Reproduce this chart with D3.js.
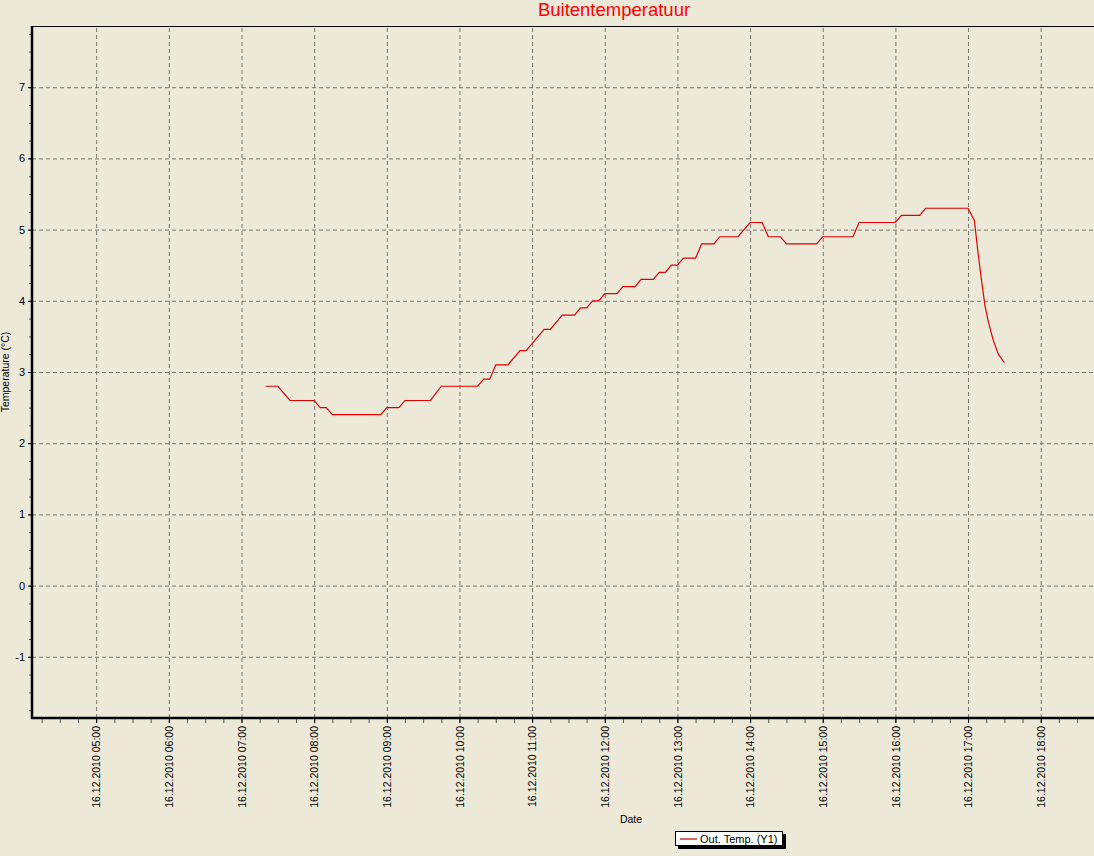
<!DOCTYPE html>
<html>
  <head>
  <title>Buitentemperatuur</title>
  <style>
    body, html {
      margin: 0;
      padding: 0;
      background: #ece9d8;
    }
    svg text {
      font-family: "Liberation Sans", Arial, sans-serif;
    }
  </style>
  </head>
  <body>
    <svg id="svg" width="1094" height="856"></svg>
  <script src="https://cdn.jsdelivr.net/npm/d3@7"></script>
  <script>
    // readings of 16.12.2010, time of day and outside temperature
    const times = [
      "07:20", "07:30", "07:40", "08:00", "08:05", "08:10", "08:15", "08:55",
      "09:00", "09:10", "09:15", "09:36", "09:45", "10:15", "10:20", "10:25",
      "10:30", "10:40", "10:50", "10:55", "11:00", "11:05", "11:10", "11:15",
      "11:20", "11:25", "11:35", "11:40", "11:45", "11:50", "11:55", "12:00",
      "12:10", "12:15", "12:25", "12:30", "12:40", "12:45", "12:50", "12:55",
      "13:00", "13:05", "13:15", "13:20", "13:30", "13:35", "13:50", "14:00",
      "14:10", "14:15", "14:25", "14:30", "14:55", "15:00", "15:25", "15:30",
      "16:00", "16:05", "16:20", "16:25", "17:00", "17:05:12", "17:08:30", "17:11:18",
      "17:14:00", "17:16:48", "17:20:54", "17:25:00", "17:30:00"
    ]
    const temps = [
      2.8, 2.8, 2.6, 2.6, 2.5, 2.5, 2.4, 2.4,
      2.5, 2.5, 2.6, 2.6, 2.8, 2.8, 2.9, 2.9,
      3.1, 3.1, 3.3, 3.3, 3.4, 3.5, 3.6, 3.6,
      3.7, 3.8, 3.8, 3.9, 3.9, 4.0, 4.0, 4.1,
      4.1, 4.2, 4.2, 4.3, 4.3, 4.4, 4.4, 4.5,
      4.5, 4.6, 4.6, 4.8, 4.8, 4.9, 4.9, 5.1,
      5.1, 4.9, 4.9, 4.8, 4.8, 4.9, 4.9, 5.1,
      5.1, 5.2, 5.2, 5.3, 5.3, 5.13, 4.64, 4.26,
      3.93, 3.70, 3.44, 3.25, 3.13
    ]
    const hourTicks = ["05:00", "06:00", "07:00", "08:00", "09:00", "10:00", "11:00",
      "12:00", "13:00", "14:00", "15:00", "16:00", "17:00", "18:00"]
    const yTicks = [-1, 0, 1, 2, 3, 4, 5, 6, 7]
    const xDomain = ["04:07", "18:44"]
    const yDomain = [-1.86, 7.86]

    const parseMin = d3.timeParse("%d.%m.%Y %H:%M")
    const parseSec = d3.timeParse("%d.%m.%Y %H:%M:%S")
    const day = "16.12.2010"
    const toDate = t => parseSec(`${day} ${t}`) || parseMin(`${day} ${t}`)

    function renderChart() {
      const data = times.map((t, i) => ({ date: toDate(t), temp: temps[i] }))

      const margin = { top: 26, right: 0, bottom: 138, left: 32 }
      const width = 1094
      const height = 856

      const xScale = d3.scaleTime()
        .domain(xDomain.map(toDate))
        .range([margin.left, width - margin.right])

      const yScale = d3.scaleLinear()
        .domain(yDomain)
        .range([height - margin.bottom, margin.top])

      const svg = d3.select('#svg')
      const bottom = height - margin.bottom

      // grid
      svg.append("g")
        .attr("class", "x-grid")
        .attr("transform", `translate(0, ${bottom})`)
        .call(d3.axisBottom(xScale).tickValues(hourTicks.map(toDate)).tickSize(-(bottom - margin.top)).tickFormat(""))
        .call(g => g.select(".domain").remove())
        .selectAll("line")
        .attr("stroke", "#77766c")
        .attr("stroke-dasharray", "4,3")

      svg.append("g")
        .attr("class", "y-grid")
        .attr("transform", `translate(${margin.left}, 0)`)
        .call(d3.axisLeft(yScale).tickValues(yTicks).tickSize(-(width - margin.left)).tickFormat(""))
        .call(g => g.select(".domain").remove())
        .selectAll("line")
        .attr("stroke", "#77766c")
        .attr("stroke-dasharray", "4,3")

      // top border
      svg.append("line")
        .attr("x1", margin.left).attr("x2", width)
        .attr("y1", margin.top + 0.5).attr("y2", margin.top + 0.5)
        .attr("stroke", "black")

      // minor ticks
      const minorX = d3.timeMinute.every(15).range(xScale.domain()[0], xScale.domain()[1])
      svg.append("g")
        .attr("transform", `translate(0, ${bottom})`)
        .call(d3.axisBottom(xScale).tickValues(minorX).tickSize(5).tickFormat(""))
        .call(g => g.select(".domain").remove())
        .selectAll("line").attr("stroke", "#555")

      const minorY = d3.range(-1.75, 7.9, 0.25)
      svg.append("g")
        .attr("transform", `translate(${margin.left}, 0)`)
        .call(d3.axisLeft(yScale).tickValues(minorY).tickSize(3).tickFormat(""))
        .call(g => g.select(".domain").remove())
        .selectAll("line").attr("stroke", "#555")

      // x axis
      svg.append("g")
        .attr("class", "x-axis")
        .attr("transform", `translate(0, ${bottom})`)
        .call(d3.axisBottom(xScale)
          .tickValues(hourTicks.map(toDate))
          .tickSize(5)
          .tickFormat(d3.timeFormat("%d.%m.%Y %H:%M")))
        .call(g => g.select(".domain").remove())
        .selectAll("text")
        .style("text-anchor", "end")
        .attr("x", 0)
        .attr("y", 0)
        .attr("dy", "0.35em")
        .attr("transform", "translate(0, 8) rotate(-90)")
        .style("font-size", "10.5px")
        .attr("fill", "black")

      svg.append("line")
        .attr("x1", margin.left - 1).attr("x2", width)
        .attr("y1", bottom).attr("y2", bottom)
        .attr("stroke", "black")
        .attr("stroke-width", 2.5)

      // y axis
      svg.append("g")
        .attr("class", "y-axis")
        .attr("transform", `translate(${margin.left}, 0)`)
        .call(d3.axisLeft(yScale).tickValues(yTicks).tickSize(4).tickPadding(3)
          .tickFormat(d => String(d)))
        .call(g => g.select(".domain").remove())
        .selectAll("text")
        .style("font-size", "11px")
        .attr("fill", "black")

      svg.append("line")
        .attr("x1", margin.left).attr("x2", margin.left)
        .attr("y1", margin.top).attr("y2", bottom + 1)
        .attr("stroke", "black")
        .attr("stroke-width", 2.5)

      // temperature line
      const line = d3.line()
        .x(d => xScale(d.date))
        .y(d => yScale(d.temp))

      svg.append("path")
        .datum(data)
        .attr("fill", "none")
        .attr("stroke", "#e00000")
        .attr("stroke-width", 1.2)
        .attr("d", line)

      // titles
      svg.append("text")
        .attr("x", 614)
        .attr("y", 16)
        .attr("text-anchor", "middle")
        .style("font-size", "18.5px")
        .attr("fill", "#ff0000")
        .text("Buitentemperatuur")

      svg.append("text")
        .attr("transform", `translate(9, 372) rotate(-90)`)
        .attr("text-anchor", "middle")
        .style("font-size", "10.5px")
        .text("Temperature (°C)")

      svg.append("text")
        .attr("x", 631)
        .attr("y", 823)
        .attr("text-anchor", "middle")
        .style("font-size", "10.5px")
        .text("Date")

      // legend
      const legend = svg.append("g")
        .attr("class", "legend")
        .attr("transform", "translate(675, 831)")

      legend.append("rect")
        .attr("x", 3).attr("y", 3)
        .attr("width", 108).attr("height", 15)
        .attr("fill", "black")
      legend.append("rect")
        .attr("x", 0.5).attr("y", 0.5)
        .attr("width", 107).attr("height", 14)
        .attr("fill", "white")
        .attr("stroke", "black")
      legend.append("line")
        .attr("x1", 5).attr("x2", 22)
        .attr("y1", 8).attr("y2", 8)
        .attr("stroke", "#c00000")
        .attr("stroke-width", 1.2)
      legend.append("text")
        .attr("x", 25)
        .attr("y", 12)
        .style("font-size", "11px")
        .text("Out. Temp. (Y1)")
    }
    renderChart()
  </script>
  </body>
</html>
